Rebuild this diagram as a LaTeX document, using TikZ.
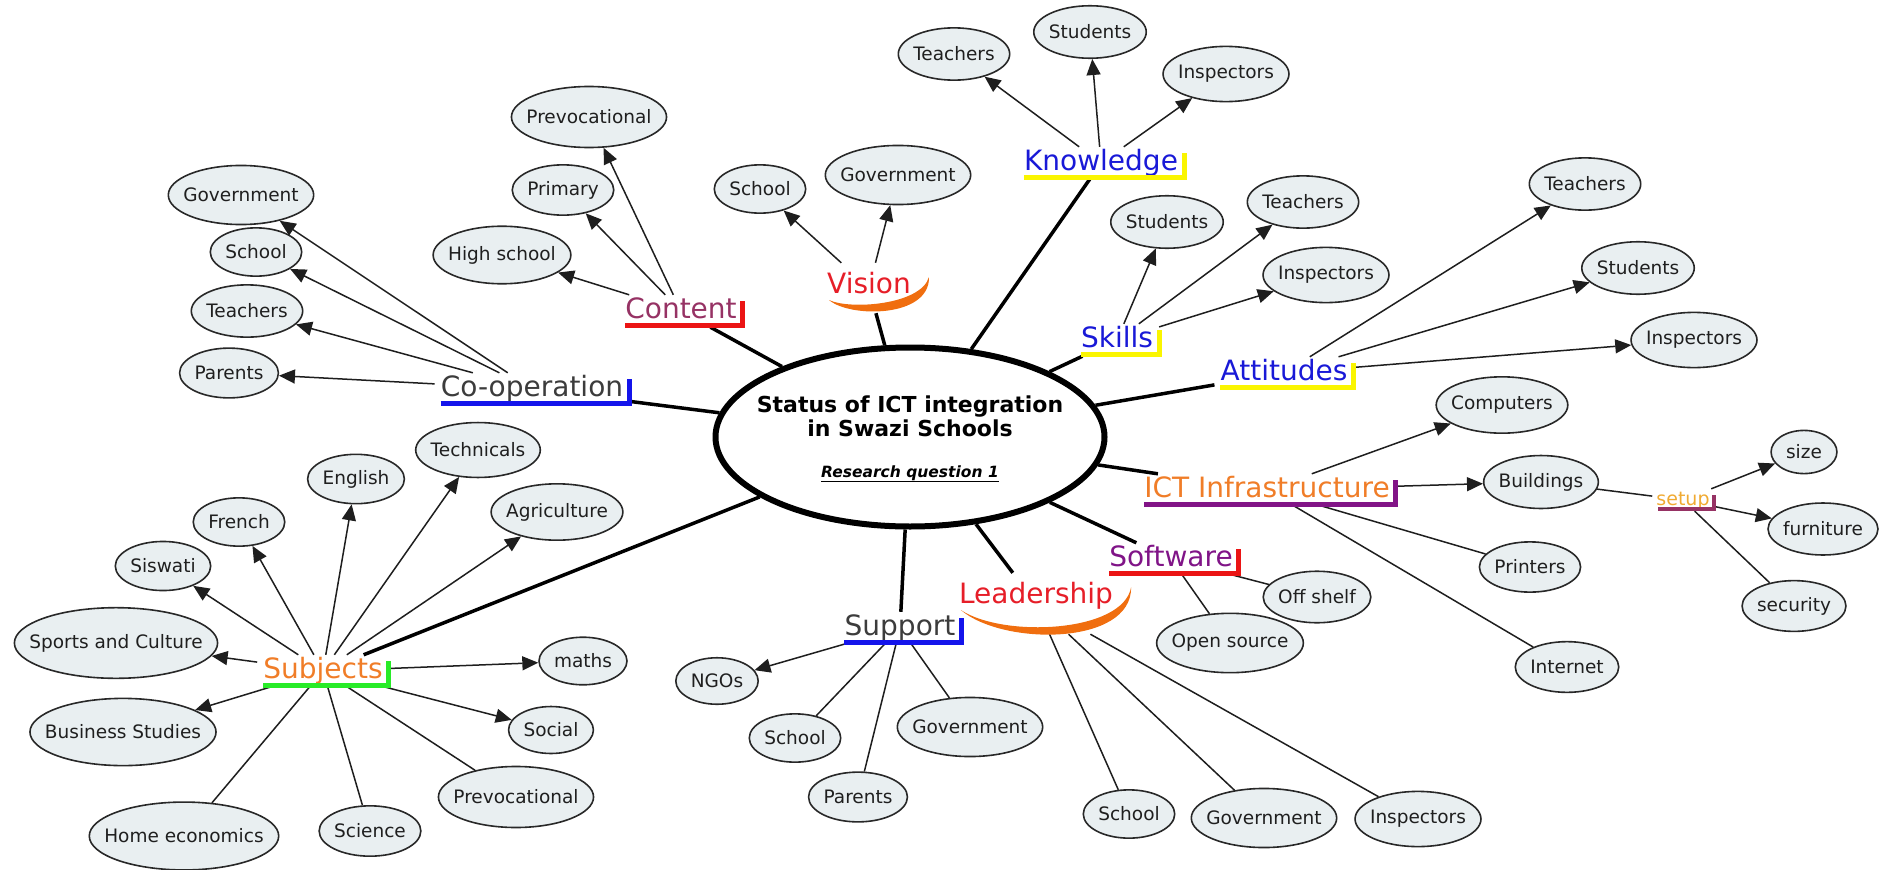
\documentclass[tikz,border=0pt]{standalone}
\usepackage{fontspec}
\setmainfont{DejaVu Sans}
\usetikzlibrary{arrows.meta,calc,shapes.geometric}

\definecolor{leaffill}{RGB}{233,239,241}
\definecolor{leafedge}{RGB}{40,40,40}
\definecolor{linkgray}{RGB}{30,30,30}
\definecolor{catblue}{RGB}{25,25,215}
\definecolor{catgray}{RGB}{60,60,60}
\definecolor{catmaroon}{RGB}{150,50,100}
\definecolor{catred}{RGB}{230,30,40}
\definecolor{catorange}{RGB}{240,125,40}
\definecolor{catpurple}{RGB}{128,20,135}
\definecolor{setupgold}{RGB}{240,170,50}
\definecolor{barblue}{RGB}{20,20,235}
\definecolor{barred}{RGB}{235,20,20}
\definecolor{baryellow}{RGB}{250,245,0}
\definecolor{barpurple}{RGB}{130,20,135}
\definecolor{bargreen}{RGB}{40,235,40}
\definecolor{barmaroon}{RGB}{150,50,100}
\definecolor{swooshorange}{RGB}{240,110,15}

\newcommand\leaffont{\fontsize{18.5}{22}\selectfont}
\newcommand\catfont{\fontsize{28}{32}\selectfont}
\newcommand\smallcatfont{\fontsize{19}{22}\selectfont}
\newdimen\leafwd

% an oval concept box, sized from its text
\newcommand\conceptleaf[3]{%
  \pgfinterruptpicture\setbox0=\hbox{\leaffont #3}\global\leafwd=\wd0 \endpgfinterruptpicture
  \pgfmathsetmacro\leafW{\the\leafwd+30}%
  \pgfmathsetmacro\leafH{0.2*\the\leafwd+36}%
  \node[leafbox,minimum width=\leafW pt,minimum height=\leafH pt] (#1) at (#2) {#3};%
}
% coloured underline with a short upright bar at the right end
% #1 node, #2 colour, #3 bar rise, #4 thickness
\newcommand\catbar[4]{%
  \draw[#2,line width=#4pt,line join=miter]
    ($(#1.south west)+(6,-2)$) -- ($(#1.south east)+(0,-2)$) -- ($(#1.south east)+(0,-#3)$);%
}
% crescent stroke under a label, rising at the right end; #2 = depth of the curve
\newcommand\swoosh[2]{%
  \fill[swooshorange]
    ($(#1.base west)+(8,7)$)
    .. controls ($(#1.base west)!0.3!(#1.base east)+(0,#2)$) and ($(#1.base east)+(13,#2)$) ..
    ($(#1.base east)+(12,-16)$)
    .. controls ($(#1.base east)+(4,#2-13)$) and ($(#1.base west)!0.3!(#1.base east)+(0,#2-8)$) ..
    cycle;%
}

\begin{document}
\begin{tikzpicture}[x=1pt,y=-1pt,
  hub/.style={ellipse,draw=black,line width=6pt,fill=white,minimum width=389pt,minimum height=179pt,inner xsep=-300pt,inner ysep=-150pt},
  hubtext/.style={font=\fontsize{22}{24}\selectfont\bfseries,anchor=base},
  hubnote/.style={font=\fontsize{15.5}{18}\selectfont\bfseries\itshape,anchor=base},
  leafbox/.style={ellipse,draw=leafedge,line width=1.6pt,fill=leaffill,text=black!88,font=\leaffont,inner xsep=-150pt,inner ysep=-40pt},
  cat/.style={font=\catfont,inner xsep=6pt,inner ysep=3pt,text height=20pt,text depth=6pt},
  arccat/.style={font=\catfont,inner xsep=6pt,inner ysep=10pt,text height=20pt},
  subcat/.style={font=\smallcatfont,inner xsep=4pt,inner ysep=2pt,text height=14pt,text depth=4pt},
  spoke/.style={line width=3.5pt,draw=black},
  twig/.style={line width=1.5pt,draw=linkgray},
  pointer/.style={twig,-{Triangle[length=16pt,width=14pt]}}]

\useasboundingbox (0,0) rectangle (1880,870);

% central topic
\node[hub] (hub) at (910,437) {};
\node[hubtext] (hubA) at (910,412) {Status of ICT integration};
\node[hubtext] (hubB) at (910,436) {in Swazi Schools};
\node[hubnote] (hubC) at (910,477) {\underline{Research question 1}};

% themes
\node[cat,text=catgray] (coop) at (532,389) {Co-operation};
\node[cat,text=catmaroon] (content) at (681,311) {Content};
\node[arccat,text=catred,text depth=10pt] (vision) at (869,288) {Vision};
\node[cat,text=catblue] (knowledge) at (1101,163) {Knowledge};
\node[cat,text=catblue] (skills) at (1117,340) {Skills};
\node[cat,text=catblue] (attitudes) at (1284,373) {Attitudes};
\node[cat,text=catorange] (ict) at (1267,490) {ICT Infrastructure};
\node[subcat,text=setupgold] (setup) at (1683,500) {setup};
\node[cat,text=catpurple] (software) at (1171,559) {Software};
\node[arccat,text=catred,text depth=21pt] (leadership) at (1036,603.5) {Leadership};
\node[cat,text=catgray] (support) at (900,628) {Support};
\node[cat,text=catorange] (subjects) at (323,671) {Subjects};

% co-operation
\conceptleaf{gov1}{241,195}{Government}
\conceptleaf{sch1}{256,252}{School}
\conceptleaf{tea1}{247,311}{Teachers}
\conceptleaf{par1}{229,373}{Parents}
% content
\conceptleaf{pre1}{589,117}{Prevocational}
\conceptleaf{pri}{563,190}{Primary}
\conceptleaf{high}{502,255}{High school}
% vision
\conceptleaf{sch2}{760,189}{School}
\conceptleaf{gov2}{898,175}{Government}
% knowledge
\conceptleaf{tea2}{954,54}{Teachers}
\conceptleaf{stu2}{1090,32}{Students}
\conceptleaf{ins2}{1226,74}{Inspectors}
% skills
\conceptleaf{stu3}{1167,222}{Students}
\conceptleaf{tea3}{1303,202}{Teachers}
\conceptleaf{ins3}{1326,275}{Inspectors}
% attitudes
\conceptleaf{tea4}{1585,184}{Teachers}
\conceptleaf{stu4}{1638,268}{Students}
\conceptleaf{ins4}{1694,340}{Inspectors}
% ICT infrastructure
\conceptleaf{comp}{1502,405}{Computers}
\conceptleaf{bldg}{1541,482}{Buildings}
\conceptleaf{prin}{1530,567}{Printers}
\conceptleaf{inet}{1567,667}{Internet}
\conceptleaf{size}{1804,452}{size}
\conceptleaf{furn}{1823,529}{furniture}
\conceptleaf{secu}{1794,606}{security}
% software
\conceptleaf{offs}{1317,597}{Off shelf}
\conceptleaf{opsrc}{1230,643}{Open source}
% leadership
\conceptleaf{sch5}{1129,814}{School}
\conceptleaf{gov5}{1264,818}{Government}
\conceptleaf{ins5}{1418,819}{Inspectors}
% support
\conceptleaf{ngo}{717,681}{NGOs}
\conceptleaf{sch6}{795,738}{School}
\conceptleaf{par6}{858,797}{Parents}
\conceptleaf{gov6}{970,727}{Government}
% subjects
\conceptleaf{tech}{478,450}{Technicals}
\conceptleaf{eng}{356,479}{English}
\conceptleaf{fre}{239,522}{French}
\conceptleaf{agri}{557,512}{Agriculture}
\conceptleaf{sis}{163,566}{Siswati}
\conceptleaf{spo}{116,643}{Sports and Culture}
\conceptleaf{math}{583,661}{maths}
\conceptleaf{bus}{123,732}{Business Studies}
\conceptleaf{soc}{551,730}{Social}
\conceptleaf{pre2}{516,797}{Prevocational}
\conceptleaf{sci}{370,831}{Science}
\conceptleaf{home}{184,836}{Home economics}

% spokes from the central topic
\foreach \c in {coop,content,vision,knowledge,skills,attitudes,ict,software,leadership,support,subjects}
  \draw[spoke] (hub) -- (\c);

% links from themes to their items
\foreach \t in {gov1,sch1,tea1,par1} \draw[pointer] (coop) -- (\t);
\foreach \t in {pre1,pri,high} \draw[pointer] (content) -- (\t);
\foreach \t in {sch2,gov2} \draw[pointer] (vision) -- (\t);
\foreach \t in {tea2,stu2,ins2} \draw[pointer] (knowledge) -- (\t);
\foreach \t in {stu3,tea3,ins3} \draw[pointer] (skills) -- (\t);
\foreach \t in {tea4,stu4,ins4} \draw[pointer] (attitudes) -- (\t);
\foreach \t in {comp,bldg} \draw[pointer] (ict) -- (\t);
\foreach \t in {prin,inet} \draw[twig] (ict) -- (\t);
\draw[twig] (bldg) -- (setup);
\foreach \t in {size,furn} \draw[pointer] (setup) -- (\t);
\draw[twig] (setup) -- (secu);
\foreach \t in {offs,opsrc} \draw[twig] (software) -- (\t);
\foreach \t in {sch5,gov5,ins5} \draw[twig] (leadership) -- (\t);
\draw[pointer] (support) -- (ngo);
\foreach \t in {sch6,par6,gov6} \draw[twig] (support) -- (\t);
\foreach \t in {tech,eng,fre,agri,sis,spo,math,bus,soc} \draw[pointer] (subjects) -- (\t);
\foreach \t in {pre2,sci,home} \draw[twig] (subjects) -- (\t);

% label decorations
\catbar{coop}{barblue}{26}{5}
\catbar{content}{barred}{26}{5}
\catbar{knowledge}{baryellow}{26}{5}
\catbar{skills}{baryellow}{26}{5}
\catbar{attitudes}{baryellow}{26}{5}
\catbar{ict}{barpurple}{26}{5}
\catbar{software}{barred}{26}{5}
\catbar{support}{barblue}{26}{5}
\catbar{subjects}{bargreen}{26}{5}
\catbar{setup}{barmaroon}{16}{4}
\swoosh{vision}{25}
\swoosh{leadership}{43}

\end{tikzpicture}
\end{document}
